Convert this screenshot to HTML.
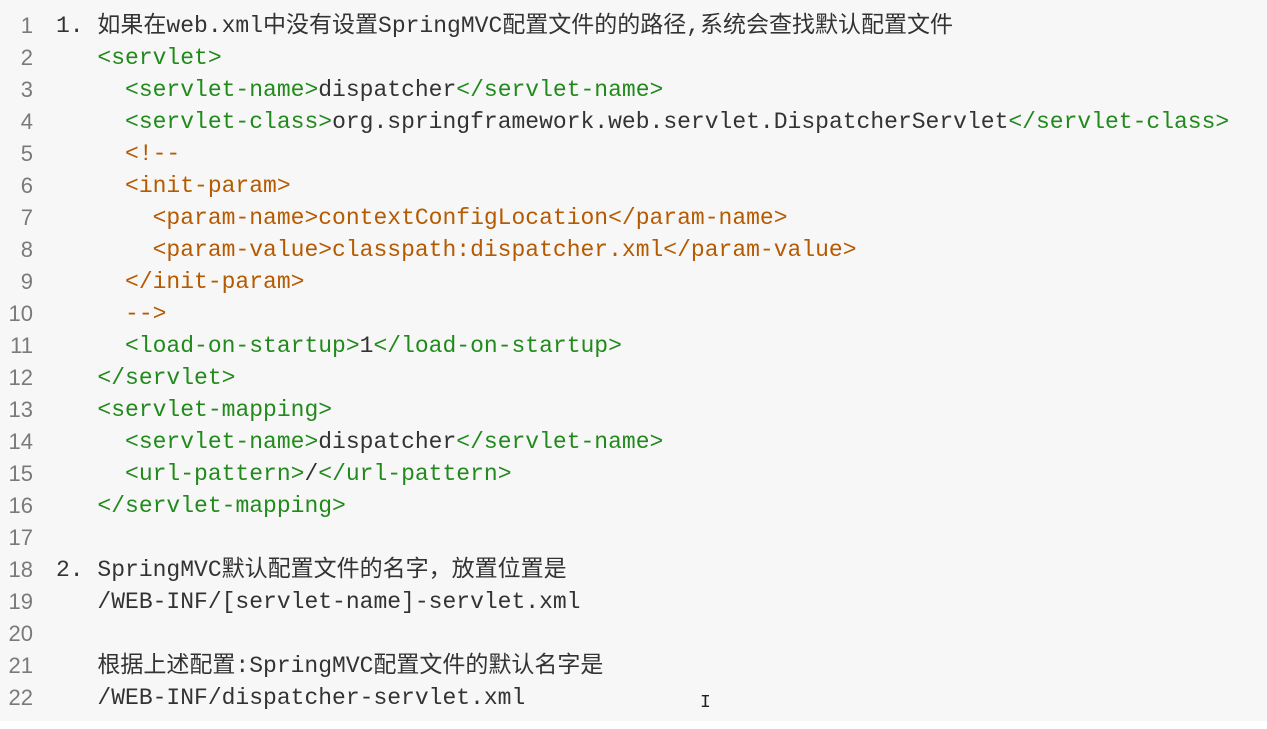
<!DOCTYPE html>
<html><head><meta charset="utf-8"><style>
html,body{margin:0;padding:0;width:1267px;height:729px;overflow:hidden;background:#fff}
#ed{position:absolute;left:0;top:0;width:1267px;height:721px;background:#f7f7f7}
.l{position:absolute;left:0;height:32px;line-height:32px;white-space:pre;font-family:"Liberation Mono","Noto Sans CJK SC",monospace;font-size:23px;color:#333;margin-top:2px}
.n{position:absolute;left:0;width:33px;text-align:right;color:#7a7a7a;font-family:"Liberation Sans",sans-serif;font-size:22px}
.c{position:absolute;left:56px}
.g{color:#228a1c}.o{color:#b55a00}
</style></head><body><div id="ed">
<div class="l" style="top:8px"><span class="n">1</span><span class="c">1. 如果在web.xml中没有设置SpringMVC配置文件的的路径,系统会查找默认配置文件</span></div>
<div class="l" style="top:40px"><span class="n">2</span><span class="c">   <span class="g">&lt;servlet&gt;</span></span></div>
<div class="l" style="top:72px"><span class="n">3</span><span class="c">     <span class="g">&lt;servlet-name&gt;</span>dispatcher<span class="g">&lt;/servlet-name&gt;</span></span></div>
<div class="l" style="top:104px"><span class="n">4</span><span class="c">     <span class="g">&lt;servlet-class&gt;</span>org.springframework.web.servlet.DispatcherServlet<span class="g">&lt;/servlet-class&gt;</span></span></div>
<div class="l" style="top:136px"><span class="n">5</span><span class="c">     <span class="o">&lt;!--</span></span></div>
<div class="l" style="top:168px"><span class="n">6</span><span class="c">     <span class="o">&lt;init-param&gt;</span></span></div>
<div class="l" style="top:200px"><span class="n">7</span><span class="c">       <span class="o">&lt;param-name&gt;contextConfigLocation&lt;/param-name&gt;</span></span></div>
<div class="l" style="top:232px"><span class="n">8</span><span class="c">       <span class="o">&lt;param-value&gt;classpath:dispatcher.xml&lt;/param-value&gt;</span></span></div>
<div class="l" style="top:264px"><span class="n">9</span><span class="c">     <span class="o">&lt;/init-param&gt;</span></span></div>
<div class="l" style="top:296px"><span class="n">10</span><span class="c">     <span class="o">--&gt;</span></span></div>
<div class="l" style="top:328px"><span class="n">11</span><span class="c">     <span class="g">&lt;load-on-startup&gt;</span>1<span class="g">&lt;/load-on-startup&gt;</span></span></div>
<div class="l" style="top:360px"><span class="n">12</span><span class="c">   <span class="g">&lt;/servlet&gt;</span></span></div>
<div class="l" style="top:392px"><span class="n">13</span><span class="c">   <span class="g">&lt;servlet-mapping&gt;</span></span></div>
<div class="l" style="top:424px"><span class="n">14</span><span class="c">     <span class="g">&lt;servlet-name&gt;</span>dispatcher<span class="g">&lt;/servlet-name&gt;</span></span></div>
<div class="l" style="top:456px"><span class="n">15</span><span class="c">     <span class="g">&lt;url-pattern&gt;</span>/<span class="g">&lt;/url-pattern&gt;</span></span></div>
<div class="l" style="top:488px"><span class="n">16</span><span class="c">   <span class="g">&lt;/servlet-mapping&gt;</span></span></div>
<div class="l" style="top:520px"><span class="n">17</span></div>
<div class="l" style="top:552px"><span class="n">18</span><span class="c">2. SpringMVC默认配置文件的名字，放置位置是</span></div>
<div class="l" style="top:584px"><span class="n">19</span><span class="c">   /WEB-INF/[servlet-name]-servlet.xml</span></div>
<div class="l" style="top:616px"><span class="n">20</span></div>
<div class="l" style="top:648px"><span class="n">21</span><span class="c">   根据上述配置:SpringMVC配置文件的默认名字是</span></div>
<div class="l" style="top:680px"><span class="n">22</span><span class="c">   /WEB-INF/dispatcher-servlet.xml</span></div>
<div style="position:absolute;left:700px;top:693px;font-family:'Liberation Mono',monospace;font-size:18px;color:#222">I</div>
</div></body></html>
